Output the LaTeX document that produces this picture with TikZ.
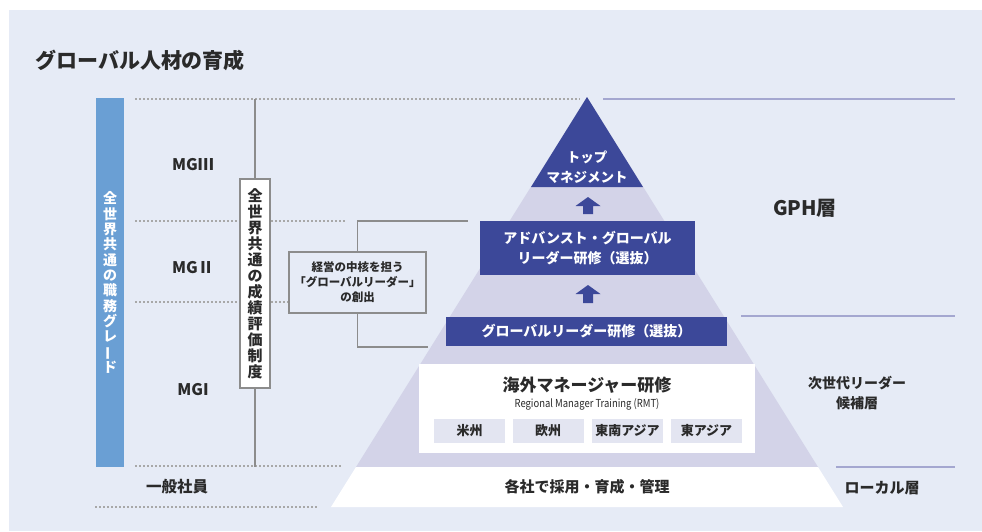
\documentclass[tikz,border=0pt]{standalone}
\usepackage{fontspec}
\setmainfont{Noto Sans CJK JP}
\definecolor{bg}{HTML}{E6EBF6}
\definecolor{barblue}{HTML}{6A9FD4}
\definecolor{dark}{HTML}{3C4899}
\definecolor{pyr}{HTML}{D3D3E8}
\definecolor{subbox}{HTML}{E3E5F1}
\definecolor{lav}{HTML}{A4A7D0}
\definecolor{lgray}{HTML}{8C8C8C}
\definecolor{dgray}{HTML}{A8A8A8}
\definecolor{txt}{HTML}{2A2A2A}
\newcommand{\fsz}[2]{\fontsize{#1}{#2}\selectfont}
\newcommand{\vbar}{\rotatebox[origin=c]{90}{ー}}
\tikzset{
  dotline/.style={dgray, line width=1.2pt, dash pattern=on 2pt off 2pt},
  graylink/.style={lgray, line width=1.3pt},
  lavline/.style={lav, line width=1.6pt},
  darkbox/.style={fill=dark, text=white, inner sep=0pt, align=center},
  label/.style={text=txt, inner sep=0pt, align=center},
  subb/.style={fill=subbox, minimum width=71pt, minimum height=24pt, inner sep=0pt, text=txt, font=\fsz{13}{15}\bfseries}
}
\begin{document}
\begin{tikzpicture}[x=1pt,y=-1pt]
\useasboundingbox (0,0) rectangle (982,531);
\fill[white] (0,0) rectangle (982,531);
\fill[bg] (9,10) rectangle (982,531);

% title
\node[label, anchor=west, font=\fsz{21}{24}\bfseries] (title) at (35,60) {グローバル人材の育成};

% dotted guide lines
\coordinate (d1a) at (135,99);  \coordinate (d1b) at (580,99);
\coordinate (d2a) at (135,221); \coordinate (d2b) at (345,221);
\coordinate (d3a) at (135,302); \coordinate (d3b) at (289,302);
\coordinate (d4a) at (135,466); \coordinate (d4b) at (341,466);
\coordinate (d5a) at (95,507);  \coordinate (d5b) at (318,507);
\draw[dotline] (d1a) -- (d1b);
\draw[dotline] (d2a) -- (d2b);
\draw[dotline] (d3a) -- (d3b);
\draw[dotline] (d4a) -- (d4b);
\draw[dotline] (d5a) -- (d5b);

% right lavender lines
\coordinate (r1a) at (603,99);  \coordinate (r1b) at (955,99);
\coordinate (r2a) at (741,316); \coordinate (r2b) at (955,316);
\coordinate (r3a) at (836,467); \coordinate (r3b) at (955,467);
\draw[lavline] (r1a) -- (r1b);
\draw[lavline] (r2a) -- (r2b);
\draw[lavline] (r3a) -- (r3b);

% left blue bar
\node[fill=barblue, minimum width=28pt, minimum height=369pt, inner sep=0pt, text=white, align=center,
      font=\fsz{14}{15.3}\bfseries] (bar) at (110,282.5)
  {全\\世\\界\\共\\通\\の\\職\\務\\グ\\レ\\\vbar\\ド};

% grade labels
\node[label, font=\fsz{16}{18}\bfseries] (mg3) at (193,165) {MGⅢ};
\node[label, font=\fsz{16}{18}\bfseries] (mg2) at (193,268) {MGⅡ};
\node[label, font=\fsz{16}{18}\bfseries] (mg1) at (193,390) {MGI};
\node[label, font=\fsz{15.5}{18}\bfseries] (ippan) at (177,487) {一般社員};

% evaluation system vertical line and box
\coordinate (vtop) at (255,99);
\coordinate (vbot) at (255,467);
\draw[graylink] (vtop) -- (vbot);
\node[draw=lgray, line width=1.2pt, fill=white, minimum width=30pt, minimum height=209pt, inner sep=0pt,
      text=txt, align=center, font=\fsz{15}{16}\bfseries] (eval) at (255,283.5)
  {全\\世\\界\\共\\通\\の\\成\\績\\評\\価\\制\\度};

% pyramid
\coordinate (apex) at (587,97);
\coordinate (pl) at (356,467);
\coordinate (pr) at (818,467);
\coordinate (bl) at (331,507);
\coordinate (br) at (843,507);
\coordinate (tl) at (531,187);
\coordinate (tr) at (643,187);
\fill[pyr] (apex) -- (pl) -- (pr) -- cycle;
\fill[white] (pl) -- (pr) -- (br) -- (bl) -- cycle;
\fill[dark] (apex) -- (tl) -- (tr) -- cycle;
\node[label, text=white, font=\fsz{13.5}{20}\bfseries] (top) at (587,167) {トップ\\マネジメント};

% block arrows
\fill[dark] (575.5,206) -- (588,197) -- (600.5,206) -- (593,206) -- (593,214) -- (583,214) -- (583,206) -- cycle;
\fill[dark] (575.5,294) -- (588,285) -- (600.5,294) -- (593,294) -- (593,303) -- (583,303) -- (583,294) -- cycle;

% advanced leader box
\node[darkbox, minimum width=215pt, minimum height=54pt, font=\fsz{14}{19.5}\bfseries] (adv) at (587.5,248)
  {アドバンスト・グローバル\\リーダー研修（選抜）};
% global leader box
\node[darkbox, minimum width=281pt, minimum height=29pt, font=\fsz{14}{16}\bfseries] (gl) at (586.5,331.5)
  {グローバルリーダー研修（選抜）};

% RMT box
\node[fill=white, minimum width=336pt, minimum height=89pt, inner sep=0pt] (rmt) at (587,408.5) {};
\node[label, font=\fsz{17}{19}\bfseries] (rmtt) at (587,385) {海外マネージャー研修};
\node[label, font=\fsz{11}{13}] (rmte) at (587,404) {\scalebox{0.86}[1]{Regional Manager Training (RMT)}};
\node[subb] (s1) at (469.5,431) {米州};
\node[subb] (s2) at (548,431) {欧州};
\node[subb] (s3) at (627.5,431) {東南アジア};
\node[subb] (s4) at (706.5,431) {東アジア};

% base text
\node[label, font=\fsz{15}{17}\bfseries] (base) at (587,487) {各社で採用・育成・管理};

% core leader box and its connectors
\node[draw=lgray, line width=1.2pt, fill=bg, minimum width=137pt, minimum height=61pt, inner sep=0pt,
      text=txt, align=center, font=\fsz{11.5}{15}\bfseries] (core) at (357.5,282.5)
  {経営の中核を担う\\「グローバルリーダー」\\の創出};
\coordinate (c1) at (468,221);
\coordinate (c2) at (428,347);
\draw[graylink] (core.north) |- (c1);
\draw[graylink] (core.south) |- (c2);

% right labels
\node[label, font=\fsz{20}{22}\bfseries] (gph) at (805,208) {GPH層};
\node[label, font=\fsz{14}{20}\bfseries] (next) at (857,393) {次世代リーダー\\候補層};
\node[label, font=\fsz{15}{17}\bfseries] (local) at (882,488) {ローカル層};
\end{tikzpicture}
\end{document}
